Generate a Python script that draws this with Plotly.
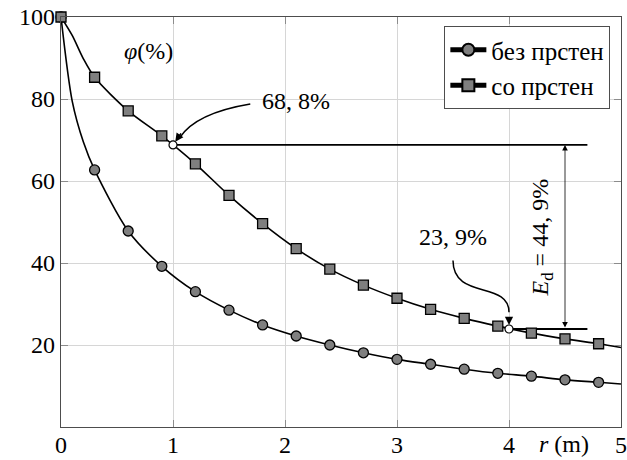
import plotly.graph_objects as go

# Radial distance r (m): marked sample points and the full curve points
r_marked = [0.0, 0.3, 0.6, 0.9, 1.2, 1.5, 1.8, 2.1, 2.4, 2.7, 3.0, 3.3, 3.6, 3.9, 4.2, 4.5, 4.8]
r_curve = [0.0, 0.1, 0.2, 0.3, 0.6, 0.9, 1.2, 1.5, 1.8, 2.1, 2.4, 2.7, 3.0, 3.3, 3.6, 3.9, 4.2, 4.5, 4.8, 5.0]

# φ (%) without ring ("без прстен")
phi_bez = [100.0, 62.7, 47.8, 39.2, 33.0, 28.5, 24.9, 22.2, 20.0, 18.1, 16.5, 15.3, 14.1, 13.1, 12.4, 11.5, 10.9]
phi_bez_curve = [100.0, 79.5, 69.5, 62.7, 47.8, 39.2, 33.0, 28.5, 24.9, 22.2, 20.0, 18.1, 16.5, 15.3, 14.1, 13.1, 12.4, 11.5, 10.9, 10.5]

# φ (%) with ring ("со прстен")
phi_so = [100.0, 85.3, 77.1, 71.0, 64.2, 56.5, 49.6, 43.5, 38.5, 34.6, 31.4, 28.7, 26.5, 24.6, 22.9, 21.5, 20.3]
phi_so_curve = [100.0, 95.5, 89.8, 85.3, 77.1, 71.0, 64.2, 56.5, 49.6, 43.5, 38.5, 34.6, 31.4, 28.7, 26.5, 24.6, 22.9, 21.5, 20.3, 19.4]

# Highlighted values
r_hi = [1.0, 4.0]
phi_hi = [68.8, 23.9]
e_d = 44.9
label_hi = ["68, 8%", "23, 9%"]

x_ticks = [0, 1, 2, 3, 4, 5]
y_ticks = [20, 40, 60, 80, 100]

SERIF = "Times New Roman"
FS = 24
GRAY_FILL = "#7f7f7f"

fig = go.Figure()

# Smooth curves
for xs, ys in [(r_curve, phi_bez_curve), (r_curve, phi_so_curve)]:
    fig.add_trace(go.Scatter(x=xs, y=ys, mode="lines",
                             line=dict(color="black", width=1.6, shape="spline", smoothing=0.8),
                             showlegend=False, hoverinfo="skip", cliponaxis=True))

# Markers
fig.add_trace(go.Scatter(x=r_marked, y=phi_bez, mode="markers",
                         marker=dict(symbol="circle", size=10, color=GRAY_FILL,
                                     line=dict(color="black", width=1.3)),
                         showlegend=False, cliponaxis=False))
fig.add_trace(go.Scatter(x=r_marked, y=phi_so, mode="markers",
                         marker=dict(symbol="square", size=10, color=GRAY_FILL,
                                     line=dict(color="black", width=1.3)),
                         showlegend=False, cliponaxis=False))

# Legend entries
fig.add_trace(go.Scatter(x=[None], y=[None], mode="lines+markers", name="без прстен",
                         line=dict(color="black", width=1.0),
                         marker=dict(symbol="circle", size=9, color=GRAY_FILL,
                                     line=dict(color="black", width=1.1))))
fig.add_trace(go.Scatter(x=[None], y=[None], mode="lines+markers", name="со прстен",
                         line=dict(color="black", width=1.0),
                         marker=dict(symbol="square", size=9, color=GRAY_FILL,
                                     line=dict(color="black", width=1.1))))

# Reference lines at the highlighted values
x_end = 4.7
for xv, yv in zip(r_hi, phi_hi):
    fig.add_shape(type="line", xref="x", yref="y", x0=xv, x1=x_end, y0=yv, y1=yv,
                  line=dict(color="black", width=1.8), layer="between")

# Hollow highlighted points
fig.add_trace(go.Scatter(x=r_hi, y=phi_hi, mode="markers",
                         marker=dict(symbol="circle", size=8, color="white",
                                     line=dict(color="black", width=1.2)),
                         showlegend=False, cliponaxis=False))

# Curved leader for 68,8 %
fig.add_shape(type="path", xref="x", yref="y",
              path="M 1.69,78.8 Q 1.205,76.6 1.06,70.6",
              line=dict(color="black", width=1.5))
fig.add_annotation(x=r_hi[0], y=phi_hi[0], xref="x", yref="y", text="",
                   showarrow=True, arrowhead=2, arrowsize=1.1, arrowwidth=1.5,
                   arrowcolor="black", ax=9, ay=-13, standoff=4)
fig.add_annotation(x=2.1, y=79.6, xref="x", yref="y", text=label_hi[0], showarrow=False,
                   font=dict(family=SERIF, size=FS, color="black"))

# Curved leader for 23,9 %
fig.add_shape(type="path", xref="x", yref="y",
              path="M 3.5,40.6 C 3.5,30.9 4.0,35.8 4.0,28.0",
              line=dict(color="black", width=1.5))
fig.add_annotation(x=r_hi[1], y=phi_hi[1], xref="x", yref="y", text="",
                   showarrow=True, arrowhead=2, arrowsize=1.1, arrowwidth=1.5,
                   arrowcolor="black", ax=0, ay=-12, standoff=4)
fig.add_annotation(x=3.5, y=46.3, xref="x", yref="y", text=label_hi[1], showarrow=False,
                   font=dict(family=SERIF, size=FS, color="black"))

# Double-headed dimension arrow for E_d
fig.add_annotation(x=4.5, y=phi_hi[0], ax=4.5, ay=phi_hi[1], xref="x", yref="y",
                   axref="x", ayref="y", text="", showarrow=True,
                   arrowhead=2, startarrowhead=2, arrowside="end+start",
                   arrowsize=1.4, startarrowsize=1.4, arrowwidth=0.8, arrowcolor="black")
fig.add_annotation(x=4.29, y=(phi_hi[0] + phi_hi[1]) / 2, xref="x", yref="y",
                   text="<i>E</i><sub>d</sub> = 44, 9%", textangle=-90, showarrow=False,
                   font=dict(family=SERIF, size=FS, color="black"))

# Axis captions
fig.add_annotation(x=0.78, y=91.6, xref="x", yref="y", text="<i>φ</i>(%)", showarrow=False,
                   font=dict(family=SERIF, size=FS, color="black"))
fig.add_annotation(x=4.49, y=0, xref="x", yref="y", yshift=-17, text="<i>r</i> (m)",
                   showarrow=False, font=dict(family=SERIF, size=FS, color="black"))

axis_common = dict(showline=True, linecolor="#4d4d4d", linewidth=1.3, mirror="ticks",
                   ticks="inside", ticklen=7, tickwidth=1, tickcolor="#8c8c8c",
                   showgrid=True, gridcolor="#d6d6d6", gridwidth=1, zeroline=False,
                   ticklabeloverflow="allow",
                   tickfont=dict(family=SERIF, size=FS, color="black"))

fig.update_xaxes(range=[0, 5], tickvals=x_ticks, ticktext=[str(v) for v in x_ticks],
                 ticklabelstandoff=-4, **axis_common)
fig.update_yaxes(range=[0, 100], tickvals=y_ticks, ticktext=[str(v) for v in y_ticks],
                 **axis_common)

fig.update_layout(
    width=627, height=460,
    margin=dict(l=61, r=6, t=17, b=33, autoexpand=False),
    paper_bgcolor="white", plot_bgcolor="white",
    legend=dict(x=0.981, y=0.978, xanchor="right", yanchor="top",
                bgcolor="white", bordercolor="#4d4d4d", borderwidth=1,
                font=dict(family=SERIF, size=25, color="black"),
                tracegroupgap=0, itemsizing="constant", itemwidth=36),
)

fig.write_html("out.html")
